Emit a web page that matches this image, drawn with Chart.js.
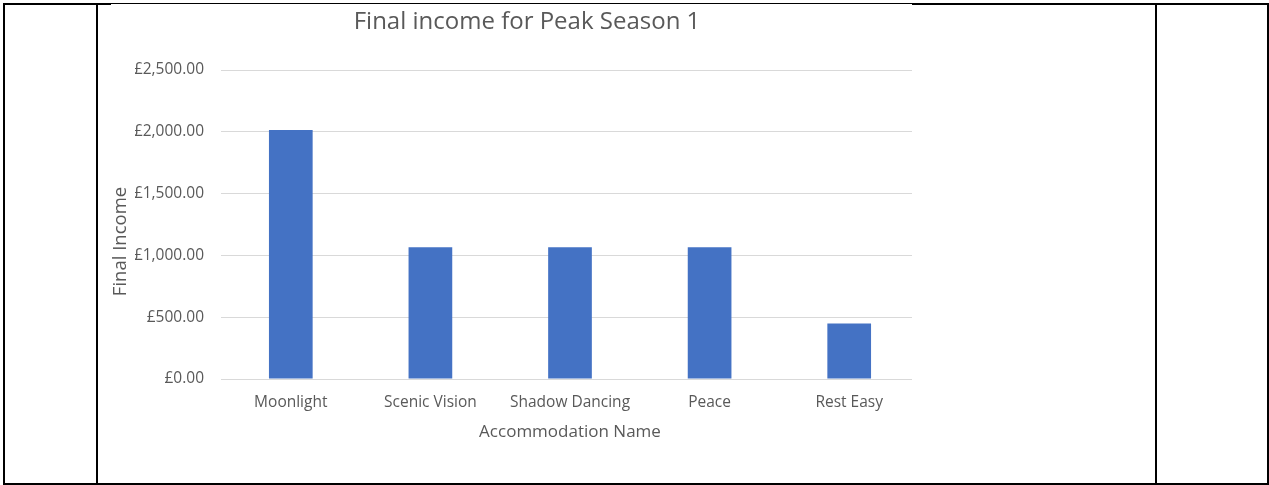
<!DOCTYPE html>
<html>
<head>
<meta charset="utf-8">
<script src="https://cdn.jsdelivr.net/npm/chart.js@4"></script>
<style>
  html, body { margin: 0; padding: 0; background: #fff; }
  body { width: 1269px; height: 485px; position: relative; overflow: hidden; }
  .ln { position: absolute; background: #000; }
  #wrap { position: absolute; left: 111px; top: 4px; width: 801px; height: 479px; overflow: hidden; background: #fff; }
  #c { position: absolute; left: 0; top: 0; }
</style>
</head>
<body>
<div class="ln" style="left:3px;top:3px;width:1266px;height:2px"></div>
<div class="ln" style="left:3px;top:483px;width:1266px;height:2px"></div>
<div class="ln" style="left:3px;top:3px;width:2px;height:482px"></div>
<div class="ln" style="left:96px;top:3px;width:2px;height:482px"></div>
<div class="ln" style="left:1155px;top:3px;width:2px;height:482px"></div>
<div class="ln" style="left:1267px;top:3px;width:2px;height:482px"></div>
<div id="wrap"><canvas id="c"></canvas></div>
<script>
const categories = ["Moonlight", "Scenic Vision", "Shadow Dancing", "Peace", "Rest Easy"];
const finalIncome = [2015, 1065, 1065, 1065, 450];
const yTickValues = [0, 500, 1000, 1500, 2000, 2500];
const chartTitle = "Final income for Peak Season 1";
const xAxisTitle = "Accommodation Name";
const yAxisTitle = "Final Income";

function gbp(v) {
  const parts = Number(v).toFixed(2).split(".");
  parts[0] = parts[0].replace(/\B(?=(\d{3})+(?!\d))/g, ",");
  return "£" + parts.join(".");
}

const FONT = "'Open Sans', 'Noto Sans', sans-serif";
const GREY = "#595959";

// y-axis title drawn slightly below the plot's centre, as in the source chart
const yTitlePlugin = {
  id: 'yTitle',
  afterDraw(chart) {
    const { ctx, chartArea } = chart;
    ctx.save();
    ctx.fillStyle = GREY;
    ctx.font = "18.5px " + FONT;
    ctx.textAlign = 'center';
    ctx.textBaseline = 'middle';
    ctx.translate(9.5, (chartArea.top + chartArea.bottom) / 2 + 17);
    ctx.rotate(-Math.PI / 2);
    ctx.fillText(yAxisTitle, 0, 0);
    ctx.restore();
  }
};

const canvas = document.getElementById('c');
canvas.style.width = '832px';
canvas.style.height = '479px';

new Chart(canvas, {
  type: 'bar',
  data: {
    labels: categories,
    datasets: [{
      label: yAxisTitle,
      data: finalIncome,
      backgroundColor: '#4472c4',
      borderWidth: 0,
      barPercentage: 0.313,
      categoryPercentage: 1
    }]
  },
  options: {
    responsive: false,
    maintainAspectRatio: false,
    animation: false,
    devicePixelRatio: 1,
    layout: { padding: { left: 24, right: 24, top: 0, bottom: 0 } },
    plugins: {
      legend: { display: false },
      tooltip: { enabled: false },
      title: {
        display: true,
        text: chartTitle,
        color: GREY,
        font: { family: FONT, size: 24, weight: 'normal' },
        padding: { top: 4, bottom: 33.2 }
      }
    },
    scales: {
      x: {
        grid: { display: false, drawTicks: false },
        border: { display: false },
        ticks: { color: GREY, font: { family: FONT, size: 15.5 }, padding: 14, maxRotation: 0, autoSkip: false },
        title: { display: true, text: xAxisTitle, color: GREY, font: { family: FONT, size: 17 }, padding: { top: 0, bottom: 41 } },
        afterFit: s => { s.height = 104; }
      },
      y: {
        min: 0,
        max: 2500,
        afterBuildTicks: s => { s.ticks = yTickValues.map(v => ({ value: v })); },
        grid: { color: '#d9d9d9', lineWidth: 1, drawTicks: false },
        border: { display: false },
        ticks: { color: GREY, font: { family: FONT, size: 15.5 }, padding: 17, callback: v => gbp(v) },
        title: { display: false },
        afterFit: s => { s.width = 86; }
      }
    }
  },
  plugins: [yTitlePlugin]
});
</script>
</body>
</html>
